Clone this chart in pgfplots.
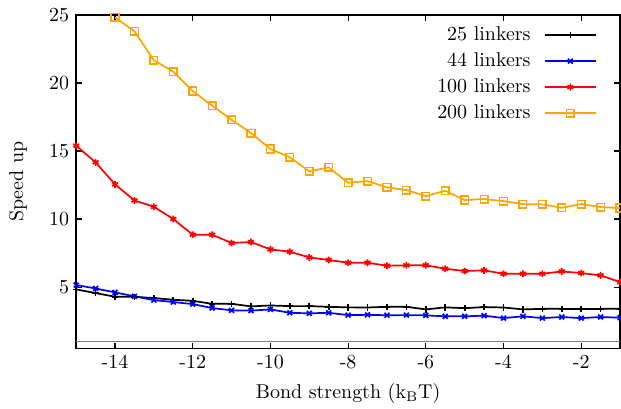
\documentclass[border=0pt]{standalone}
\usepackage{pgfplots}
\usepackage{pgfplotstable}
\pgfplotsset{compat=1.18}
\definecolor{myorange}{RGB}{255,165,0}
\pgfplotstableread{
x y
-15 4.83
-14.5 4.56
-14 4.29
-13.5 4.29
-13 4.19
-12.5 4.07
-12 3.99
-11.5 3.77
-11 3.77
-10.5 3.58
-10 3.65
-9.5 3.60
-9 3.60
-8.5 3.55
-8 3.51
-7.5 3.50
-7 3.55
-6.5 3.55
-6 3.36
-5.5 3.51
-5 3.45
-4.5 3.53
-4 3.50
-3.5 3.36
-3 3.40
-2.5 3.40
-2 3.38
-1.5 3.40
-1 3.40
}\tA
\pgfplotstableread{
x y
-15 5.15
-14.5 4.90
-14 4.61
-13.5 4.32
-13 4.04
-12.5 3.90
-12 3.75
-11.5 3.46
-11 3.29
-10.5 3.27
-10 3.36
-9.5 3.11
-9 3.07
-8.5 3.11
-8 2.94
-7.5 2.96
-7 2.93
-6.5 2.94
-6 2.92
-5.5 2.85
-5 2.85
-4.5 2.90
-4 2.72
-3.5 2.85
-3 2.72
-2.5 2.80
-2 2.72
-1.5 2.80
-1 2.75
}\tB
\pgfplotstableread{
x y
-15 15.39
-14.5 14.17
-14 12.55
-13.5 11.37
-13 10.90
-12.5 10.00
-12 8.85
-11.5 8.85
-11 8.24
-10.5 8.31
-10 7.77
-9.5 7.60
-9 7.18
-8.5 6.99
-8 6.79
-7.5 6.79
-7 6.57
-6.5 6.60
-6 6.60
-5.5 6.35
-5 6.18
-4.5 6.23
-4 5.98
-3.5 5.98
-3 5.98
-2.5 6.15
-2 6.03
-1.5 5.86
-1 5.37
}\tC
\pgfplotstableread{
x y
-14 24.83
-13.5 23.80
-13 21.67
-12.5 20.83
-12 19.41
-11.5 18.33
-11 17.30
-10.5 16.32
-10 15.15
-9.5 14.54
-9 13.51
-8.5 13.80
-8 12.67
-7.5 12.79
-7 12.33
-6.5 12.13
-6 11.69
-5.5 12.08
-5 11.40
-4.5 11.47
-4 11.32
-3.5 11.10
-3 11.08
-2.5 10.83
-2 11.10
-1.5 10.88
-1 10.81
}\tD
\begin{document}
\fontsize{10.5pt}{12.6pt}\selectfont
\begin{tikzpicture}
\begin{axis}[
  scale only axis,
  width=286.2pt, height=175.4pt,
  xmin=-15, xmax=-1, ymin=0.5, ymax=25,
  xtick={-14,-12,-10,-8,-6,-4,-2},
  xticklabels={-14,-12,-10,-8,-6,-4,-2},
  ytick={5,10,15,20,25},
  /pgf/number format/assume math mode=true,
  tick align=inside,
  major tick length=3pt,
  tick style={black, line width=0.6pt},
  axis line style={line width=0.8pt},
  xlabel={Bond strength (k\textsubscript{B}T)},
  ylabel={Speed up},
  xlabel style={at={(axis description cs:0.5,-0.135)}, anchor=center},
  ylabel style={at={(axis description cs:-0.107,0.5)}, anchor=center},
  legend style={draw=none, fill=none, at={(1,1)}, anchor=north east, xshift=-9pt, yshift=-2pt, row sep=0.8pt,
    /tikz/every odd column/.append style={column sep=5pt}},
  legend cell align=right,
  legend plot pos=right,
  legend image code/.code={\draw[mark repeat=2,mark phase=2] plot coordinates {(0pt,0pt) (13.5pt,0pt) (27pt,0pt)};},
  every axis plot/.append style={line width=0.9pt},
]
\addplot[gray, line width=0.8pt, forget plot] coordinates {(-15,1) (-1,1)};
\addplot[black, mark=+, mark size=1.7pt] table {\tA};
\addlegendentry{25 linkers}
\addplot[blue, mark=x, mark size=1.8pt] table {\tB};
\addlegendentry{44 linkers}
\addplot[red, mark=asterisk, mark size=1.8pt] table {\tC};
\addlegendentry{100 linkers}
\addplot[myorange, mark=square, mark size=2pt, mark options={line width=0.8pt}] table {\tD};
\addlegendentry{200 linkers}
\end{axis}
\pgfresetboundingbox
\path (current axis.south west) ++(-40.1pt,-31.9pt) coordinate (bl);
\path (current axis.north east) ++(0.5pt,7.9pt) coordinate (tr);
\path[use as bounding box] (bl) rectangle (tr);
\end{tikzpicture}
\end{document}
